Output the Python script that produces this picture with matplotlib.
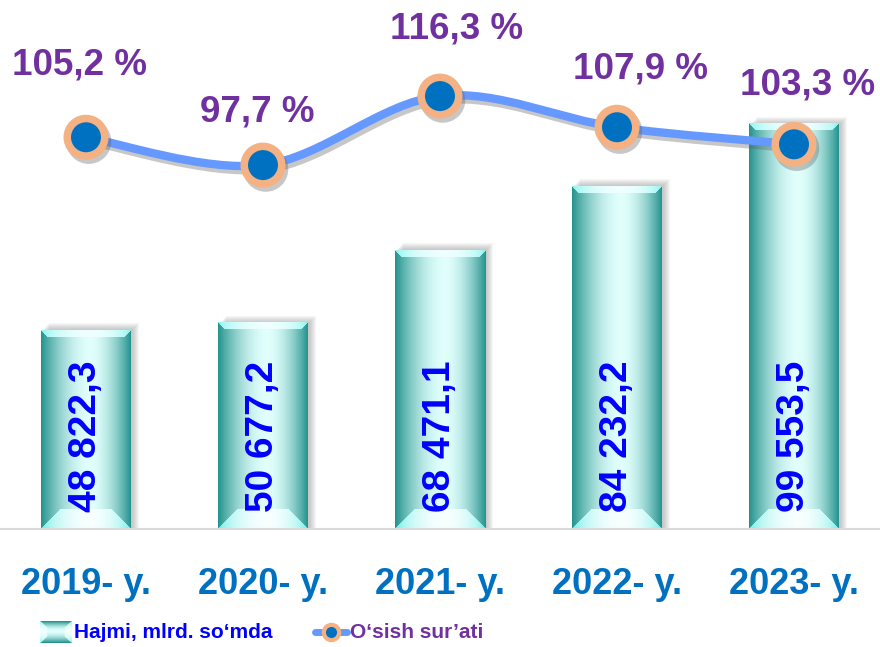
import numpy as np
import matplotlib.pyplot as plt
from matplotlib.path import Path
from matplotlib.patches import PathPatch, Rectangle
import matplotlib.patheffects as pe

# data
years = ['2019- y.', '2020- y.', '2021- y.', '2022- y.', '2023- y.']
volume = [48822.3, 50677.2, 68471.1, 84232.2, 99553.5]
volume_labels = ['48 822,3', '50 677,2', '68 471,1', '84 232,2', '99 553,5']
growth = [105.2, 97.7, 116.3, 107.9, 103.3]
growth_labels = ['105,2 %', '97,7 %', '116,3 %', '107,9 %', '103,3 %']
legend_bar = 'Hajmi, mlrd. so‘mda'
legend_line = 'O‘sish sur’ati'

# label offsets in points (dx, dy) for percent labels
pct_offsets = [(-5, 52), (-4, 38), (12, 48), (17, 42), (10, 43)]

plt.rcParams['font.family'] = ['Liberation Sans', 'DejaVu Sans']

W, H = 880, 647
fig = plt.figure(figsize=(W / 100, H / 100), dpi=100)
base_px = 529
ax = fig.add_axes([0, (H - base_px) / H, 1, base_px / H])
ymax = 130000
for s in ['top', 'left', 'right']:
    ax.spines[s].set_visible(False)
ax.spines['bottom'].set_color('#d9d9d9')
ax.spines['bottom'].set_linewidth(1.5)
ax.set_yticks([])
x = np.arange(len(years))
ax.set_xticks(x)
ax.set_xticklabels(years, fontsize=26, fontweight='bold', color='#0070c0')
ax.tick_params(axis='x', length=0, pad=27)

px_x = 1 / 177.0          # data units per pixel (x)
px_y = ymax / base_px     # data units per pixel (y)
bar_w = 90 * px_x


def bar_image(wpx, hpx, bb=20, bt=7):
    u = np.linspace(0, 1, wpx)
    prof = 1 - np.abs((u - 0.55) / np.where(u < 0.55, 0.55, 0.45)) ** 1.8
    prof = np.clip(prof, 0, 1)
    dark = np.array([0.15, 0.58, 0.56])
    light = np.array([0.88, 1.0, 0.99])
    img = dark + (light - dark) * prof[None, :, None]
    img = np.repeat(img, hpx, axis=0)
    rows = np.arange(hpx)[:, None]
    cols = np.arange(wpx)[None, :]
    dt = rows
    db = hpx - 1 - rows
    dl = cols
    dr = wpx - 1 - cols
    bot = (db < bb) & (db <= dl) & (db <= dr)
    top = (dt < bt) & (dt <= dl) & (dt <= dr)
    cy = np.array([0.3, 0.92, 0.88])
    wh = np.array([0.97, 1.0, 1.0])
    pb = (prof ** 0.5)[None, :, None]
    bface = cy + (wh - cy) * pb
    tc = np.array([0.45, 0.95, 0.92])
    tface = tc + (np.array([0.94, 1, 1]) - tc) * pb
    img = np.where(bot[:, :, None], np.broadcast_to(bface, img.shape), img)
    img = np.where(top[:, :, None], np.broadcast_to(tface, img.shape), img)
    return img


for xi, v in zip(x, volume):
    # soft shadow
    for k in range(7):
        ax.add_patch(Rectangle((xi - bar_w / 2 + (2 + k) * px_x, 0),
                               bar_w, v + (1 + k) * px_y,
                               color='#808080', alpha=0.07, lw=0, zorder=1))
    hpx = int(round(v / px_y))
    ax.imshow(bar_image(90, hpx), extent=[xi - bar_w / 2, xi + bar_w / 2, 0, v],
              aspect='auto', interpolation='bilinear', zorder=2)
for xi, lab in zip(x, volume_labels):
    ax.text(xi, 17 * px_y, lab, rotation=90, ha='center', va='bottom',
            fontsize=28, fontweight='bold', color='#0000ff', zorder=3)
ax.set_xlim(-86 / 177, (W - 86) / 177)
ax.set_ylim(0, ymax)

# growth line on secondary axis
ax2 = ax.twinx()
ax2.set_ylim(-0.4, 142.2)
ax2.set_yticks([])
for s in ax2.spines.values():
    s.set_visible(False)

pts = np.column_stack([x, growth]).astype(float)
verts = [pts[0]]
codes = [Path.MOVETO]
n = len(pts)
for i in range(n - 1):
    p0 = pts[max(i - 1, 0)]
    p1 = pts[i]
    p2 = pts[i + 1]
    p3 = pts[min(i + 2, n - 1)]
    c1 = p1 + (p2 - p0) / 6
    c2 = p2 - (p3 - p1) / 6
    verts += [c1, c2, p2]
    codes += [Path.CURVE4] * 3
shadow = [pe.SimpleLineShadow(offset=(2, -3), shadow_color='#606060', alpha=0.35), pe.Normal()]
ax2.add_patch(PathPatch(Path(verts, codes), fill=False, lw=6, edgecolor='#6699ff',
                        capstyle='round', zorder=4, path_effects=shadow))
ax2.plot(x, growth, 'o', ms=27, mfc='#0070c0', mec='#f4b183', mew=5.4, zorder=5,
         path_effects=[pe.SimpleLineShadow(offset=(2, -3), shadow_color='#606060', alpha=0.35), pe.Normal()])
for xi, v, lab, off in zip(x, growth, growth_labels, pct_offsets):
    ax2.annotate(lab, (xi, v), xytext=off, textcoords='offset points', ha='center', va='center',
                 fontsize=26.5, fontweight='bold', color='#7030a0', zorder=6)

# legend
ly = 1 - 632 / H
lax = fig.add_axes([40 / W, 1 - 643 / H, 31 / W, 22 / H])
lax.imshow(np.rot90(bar_image(22, 31, bb=7, bt=7)), aspect='auto', interpolation='bilinear')
lax.axis('off')
fig.text(74 / W, ly, legend_bar, ha='left', va='center', fontsize=15, fontweight='bold',
         color='#0000ff')
fig.add_artist(plt.Line2D([315 / W, 347 / W], [ly, ly], lw=5, color='#6699ff',
                          solid_capstyle='round', transform=fig.transFigure))
fig.add_artist(plt.Line2D([331 / W], [ly], marker='o', ms=11, mfc='#0070c0', mec='#f4b183',
                          mew=3, transform=fig.transFigure))
fig.text(350 / W, ly, legend_line, ha='left', va='center', fontsize=15, fontweight='bold',
         color='#7030a0')

fig.savefig('out.png', dpi=100)
